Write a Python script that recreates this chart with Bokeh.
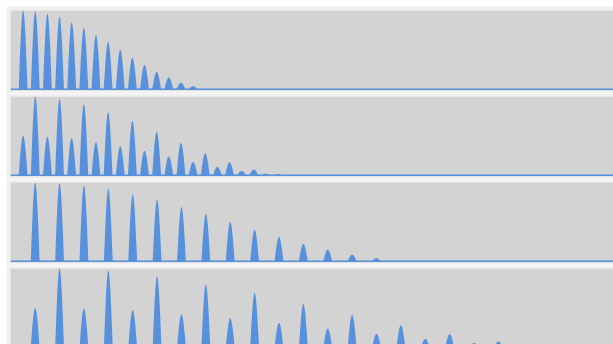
import numpy as np
from bokeh.plotting import figure
from bokeh.layouts import column
from bokeh.models import Range1d
from bokeh.embed import file_html
from bokeh.resources import INLINE

# Harmonic numbers and relative amplitudes of the two spectra
harmonics_a = list(range(1, 16))
amplitudes_a = [1.0, 0.99, 0.96, 0.92, 0.85, 0.78, 0.69, 0.60, 0.50, 0.40,
                0.31, 0.22, 0.15, 0.084, 0.04]

harmonics_b = list(range(1, 23))
amplitudes_b = [0.50, 1.0, 0.49, 0.97, 0.47, 0.90, 0.42, 0.80, 0.37, 0.69,
                0.31, 0.55, 0.24, 0.41, 0.17, 0.28, 0.106, 0.167, 0.055, 0.074,
                0.02, 0.017]

# Frequency spans of the panels (full band and half band)
span_full = (-0.04, 49.63)
span_half = (-0.012, 24.72)

BLUE = "#5790dd"
PANEL_BG = "#d3d3d3"
BORDER_BG = "#f0f0f0"
PEAK_HALF_WIDTH_PX = 4.4
PLOT_W = 603


def spectrum_panel(harmonics, amplitudes, xspan, plot_h, y_start, top, bottom, margin_top):
    p = figure(width=PLOT_W + 4, height=plot_h + top + bottom,
               x_range=Range1d(*xspan), y_range=Range1d(y_start, 1.0),
               x_axis_type=None, y_axis_type=None,
               toolbar_location=None, output_backend="svg",
               min_border_left=4, min_border_right=0,
               min_border_top=top, min_border_bottom=bottom,
               margin=(margin_top, 0, 0, 6))
    p.background_fill_color = PANEL_BG
    p.border_fill_color = BORDER_BG
    p.outline_line_color = None
    p.grid.visible = False

    # each harmonic is drawn as a narrow half-cosine lobe of fixed screen width
    px_per_unit = PLOT_W / (xspan[1] - xspan[0])
    half_w = PEAK_HALF_WIDTH_PX / px_per_unit
    x = np.linspace(xspan[0], xspan[1], 12000)
    y = np.zeros_like(x)
    for h, a in zip(harmonics, amplitudes):
        d = np.abs(x - h)
        lobe = np.where(d < half_w, np.cos(np.pi * d / (2 * half_w)), 0.0)
        y += a * lobe

    p.varea(x=x, y1=np.zeros_like(x), y2=y, fill_color=BLUE, fill_alpha=1.0)
    p.line(x=[xspan[0], xspan[1]], y=[0, 0], line_color=BLUE, line_width=1.5)
    return p


p1 = spectrum_panel(harmonics_a, amplitudes_a, span_full, 80, -0.015, 4, 3, 6)
p2 = spectrum_panel(harmonics_b, amplitudes_b, span_full, 80, -0.015, 3, 3, 0)
p3 = spectrum_panel(harmonics_a, amplitudes_a, span_half, 80, -0.015, 3, 3, 0)
p4 = spectrum_panel(harmonics_b, amplitudes_b, span_half, 76, 0.036, 3, 0, 0)

layout = column(p1, p2, p3, p4, spacing=0)

open("out.html", "w").write(file_html(layout, INLINE))
